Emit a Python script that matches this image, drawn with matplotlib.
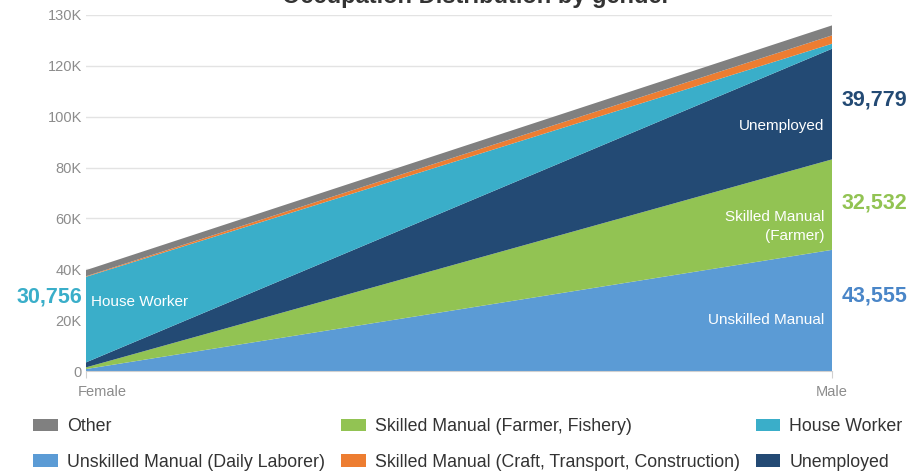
import matplotlib.pyplot as plt
import matplotlib.transforms as mtransforms
from matplotlib.patches import Patch
import numpy as np

plt.rcParams['font.family'] = ['Liberation Sans', 'DejaVu Sans']

# data
genders = ['Female', 'Male']
unskilled = [700, 43555]
farmer = [600, 32532]
unemployed = [1800, 39779]
house_worker = [30756, 1800]
craft = [200, 3000]
other = [2200, 3600]

series_names = ['Unskilled Manual (Daily Laborer)', 'Skilled Manual (Farmer, Fishery)', 'Unemployed',
                'House Worker', 'Skilled Manual (Craft, Transport, Construction)', 'Other']
colors = ['#5B9BD5', '#92C353', '#234A74', '#3AAEC9', '#ED7D31', '#808080']

ytick_labels = ['0', '20K', '40K', '60K', '80K', '100K', '120K', '130K']

fig = plt.figure(figsize=(9.08, 4.73), dpi=100)
ax = fig.add_axes([86/908, 1-371/473, (832-86)/908, (371-15)/473])

x = np.arange(len(genders))
ax.stackplot(x, unskilled, farmer, unemployed, house_worker, craft, other,
             colors=colors, linewidth=0, zorder=2)

ymax = 128000
ax.set_xlim(0, 1)
ax.set_ylim(0, ymax)
ax.set_yticks(np.linspace(0, ymax, len(ytick_labels)), ytick_labels)
ax.set_xticks(x, genders)
ax.grid(axis='y', color='#E3E3E3', lw=1, zorder=0)
for s in ['top', 'right', 'left']:
    ax.spines[s].set_visible(False)
ax.spines['bottom'].set_color('#D0D0D0')
ax.tick_params(axis='y', length=0, pad=3, labelsize=10.5, labelcolor='#8C8C8C')
ax.tick_params(axis='x', length=5, color='#D0D0D0', pad=5, labelsize=10.5, labelcolor='#8C8C8C')
# female label sits a bit to the right of its tick
lbl = ax.get_xticklabels()[0]
lbl.set_horizontalalignment('left')
lbl.set_transform(lbl.get_transform() + mtransforms.ScaledTranslation(-8/100, 0, fig.dpi_scale_trans))

# title (cut off at the top of the picture, as in the original)
fig.text(0.525, 1-3.5/473, 'Occupation Distribution by gender', ha='center', va='baseline',
         fontsize=17, fontweight='bold', color='#333333')

# labels inside the areas
ax.text(0.007, 0.194, 'House Worker', transform=ax.transAxes, ha='left', va='center',
        color='white', fontsize=11)
ax.text(0.99, 0.688, 'Unemployed', transform=ax.transAxes, ha='right', va='center',
        color='white', fontsize=11)
ax.text(0.99, 0.405, 'Skilled Manual\n(Farmer)', transform=ax.transAxes, ha='right', va='center',
        color='white', fontsize=11, linespacing=1.45, multialignment='right')
ax.text(0.99, 0.143, 'Unskilled Manual', transform=ax.transAxes, ha='right', va='center',
        color='white', fontsize=11)

# value labels beside the axes
fig.text(82/908, 1-297/473, f'{house_worker[0]:,}', ha='right', va='center',
         fontsize=15.5, fontweight='bold', color='#3AAEC9')
fig.text(842/908, 1-100/473, f'{unemployed[1]:,}', ha='left', va='center',
         fontsize=15.5, fontweight='bold', color='#234A74')
fig.text(842/908, 1-203/473, f'{farmer[1]:,}', ha='left', va='center',
         fontsize=15.5, fontweight='bold', color='#92C353')
fig.text(842/908, 1-296/473, f'{unskilled[1]:,}', ha='left', va='center',
         fontsize=15.5, fontweight='bold', color='#4A86C8')

# legend, filled column by column
order = [5, 0, 1, 4, 3, 2]
handles = [Patch(facecolor=colors[i], edgecolor='none', label=series_names[i]) for i in order]
fig.legend(handles=handles, ncol=3, loc='upper left', bbox_to_anchor=(33/908, 1-418/473),
           frameon=False, fontsize=12.8, labelcolor='#333333', borderpad=0, borderaxespad=0,
           handlelength=1.4, handleheight=0.7, handletextpad=0.5, columnspacing=0.9,
           labelspacing=1.05)

fig.savefig('out.png', dpi=100)
